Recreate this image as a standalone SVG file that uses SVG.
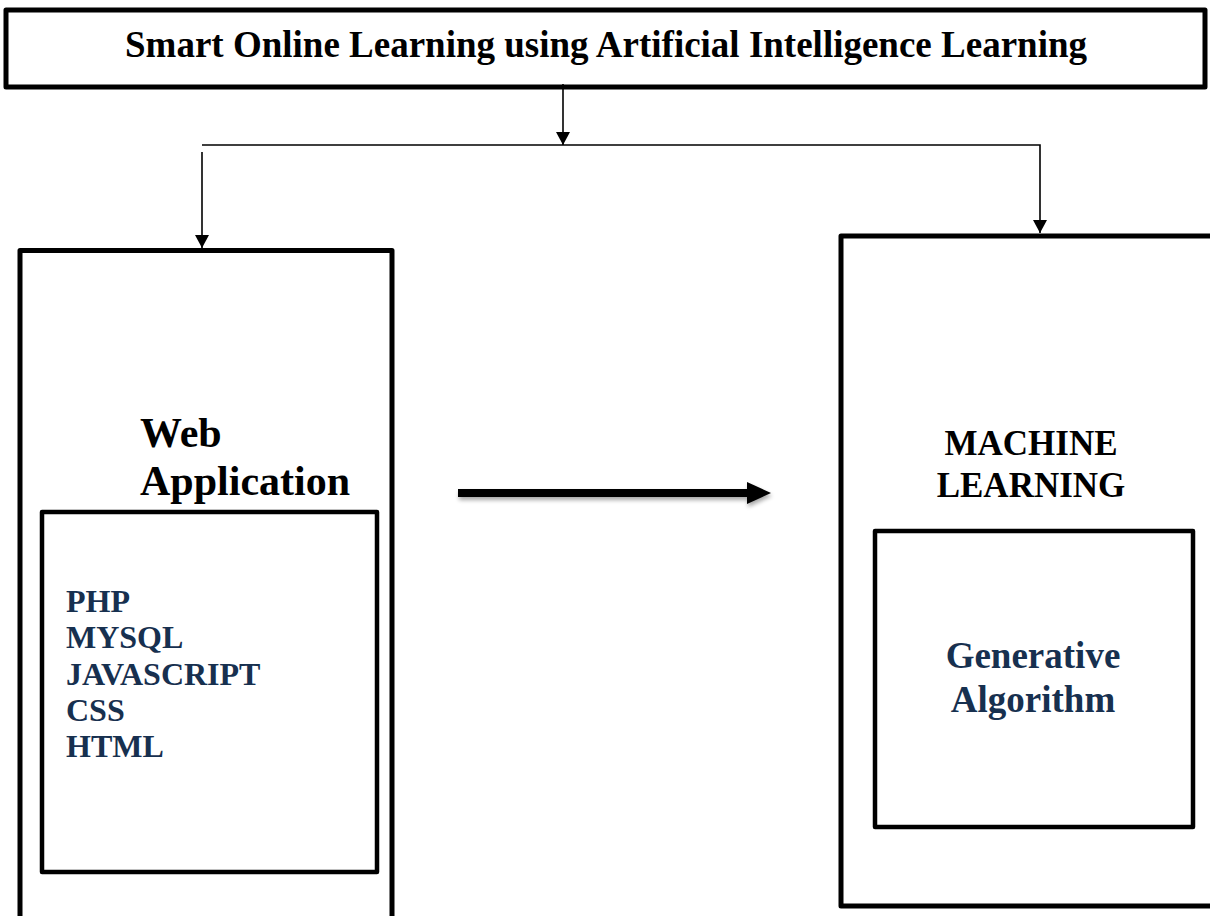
<svg xmlns="http://www.w3.org/2000/svg" width="1210" height="916" viewBox="0 0 1210 916">
<style>
.box{fill:none;stroke:#000;stroke-width:5;stroke-linejoin:round}
.inner{fill:none;stroke:#000;stroke-width:4.5;stroke-linejoin:round}
.conn{fill:none;stroke:#000;stroke-width:1.6}
.t{font-family:"Liberation Serif","Times New Roman",serif;font-weight:bold}
.blk{fill:#000}
.navy{fill:#17304f}
</style>
<defs>
<marker id="ah" markerWidth="14" markerHeight="14" refX="13" refY="7" orient="auto" markerUnits="userSpaceOnUse">
<path d="M0,0 L13,7 L0,14 Z" fill="#000"/>
</marker>
<filter id="sh" x="-5%" y="-50%" width="110%" height="250%">
<feGaussianBlur in="SourceAlpha" stdDeviation="2"/>
<feOffset dx="1" dy="3" result="b"/>
<feComponentTransfer><feFuncA type="linear" slope="0.35"/></feComponentTransfer>
<feMerge><feMergeNode/><feMergeNode in="SourceGraphic"/></feMerge>
</filter>
</defs>
<rect width="1210" height="916" fill="#fff"/>

<g id="connectors">
<line class="conn" x1="563" y1="84" x2="563" y2="145" marker-end="url(#ah)"/>
<polyline class="conn" points="202,145 1040,145 1040,233" marker-end="url(#ah)"/>
<line class="conn" x1="202" y1="152" x2="202" y2="248" marker-end="url(#ah)"/>
<g filter="url(#sh)">
<rect x="458" y="489" width="291" height="8" fill="#000"/>
<path d="M747,482 L771,493 L747,504 Z" fill="#000"/>
</g>
</g>

<g id="title">
<rect class="box" x="6" y="10" width="1199" height="77"/>
<text class="t blk" x="606" y="57" font-size="37" text-anchor="middle">Smart Online Learning using Artificial Intelligence Learning</text>
</g>

<g id="web-application">
<path class="box" d="M20,920 L20,250.5 L392,250.5 L392,920"/>
<text class="t blk" font-size="42" x="140" y="447">Web</text>
<text class="t blk" font-size="42" x="140" y="495">Application</text>
</g>

<g id="web-tech">
<rect class="inner" x="42" y="512" width="335" height="360"/>
<text class="t navy" font-size="32" x="66">
<tspan x="66" y="612">PHP</tspan>
<tspan x="66" y="648">MYSQL</tspan>
<tspan x="66" y="685">JAVASCRIPT</tspan>
<tspan x="66" y="721">CSS</tspan>
<tspan x="66" y="757">HTML</tspan>
</text>
</g>

<g id="machine-learning">
<path class="box" d="M1215,236 L841,236 L841,906 L1215,906"/>
<text class="t blk" font-size="35" x="1031" y="455" text-anchor="middle">MACHINE</text>
<text class="t blk" font-size="35" x="1031" y="497" text-anchor="middle">LEARNING</text>
</g>

<g id="generative-algorithm">
<rect class="inner" x="875" y="531" width="318" height="296"/>
<text class="t navy" font-size="37" x="1033" y="668" text-anchor="middle">Generative</text>
<text class="t navy" font-size="37" x="1033" y="712" text-anchor="middle">Algorithm</text>
</g>
</svg>
